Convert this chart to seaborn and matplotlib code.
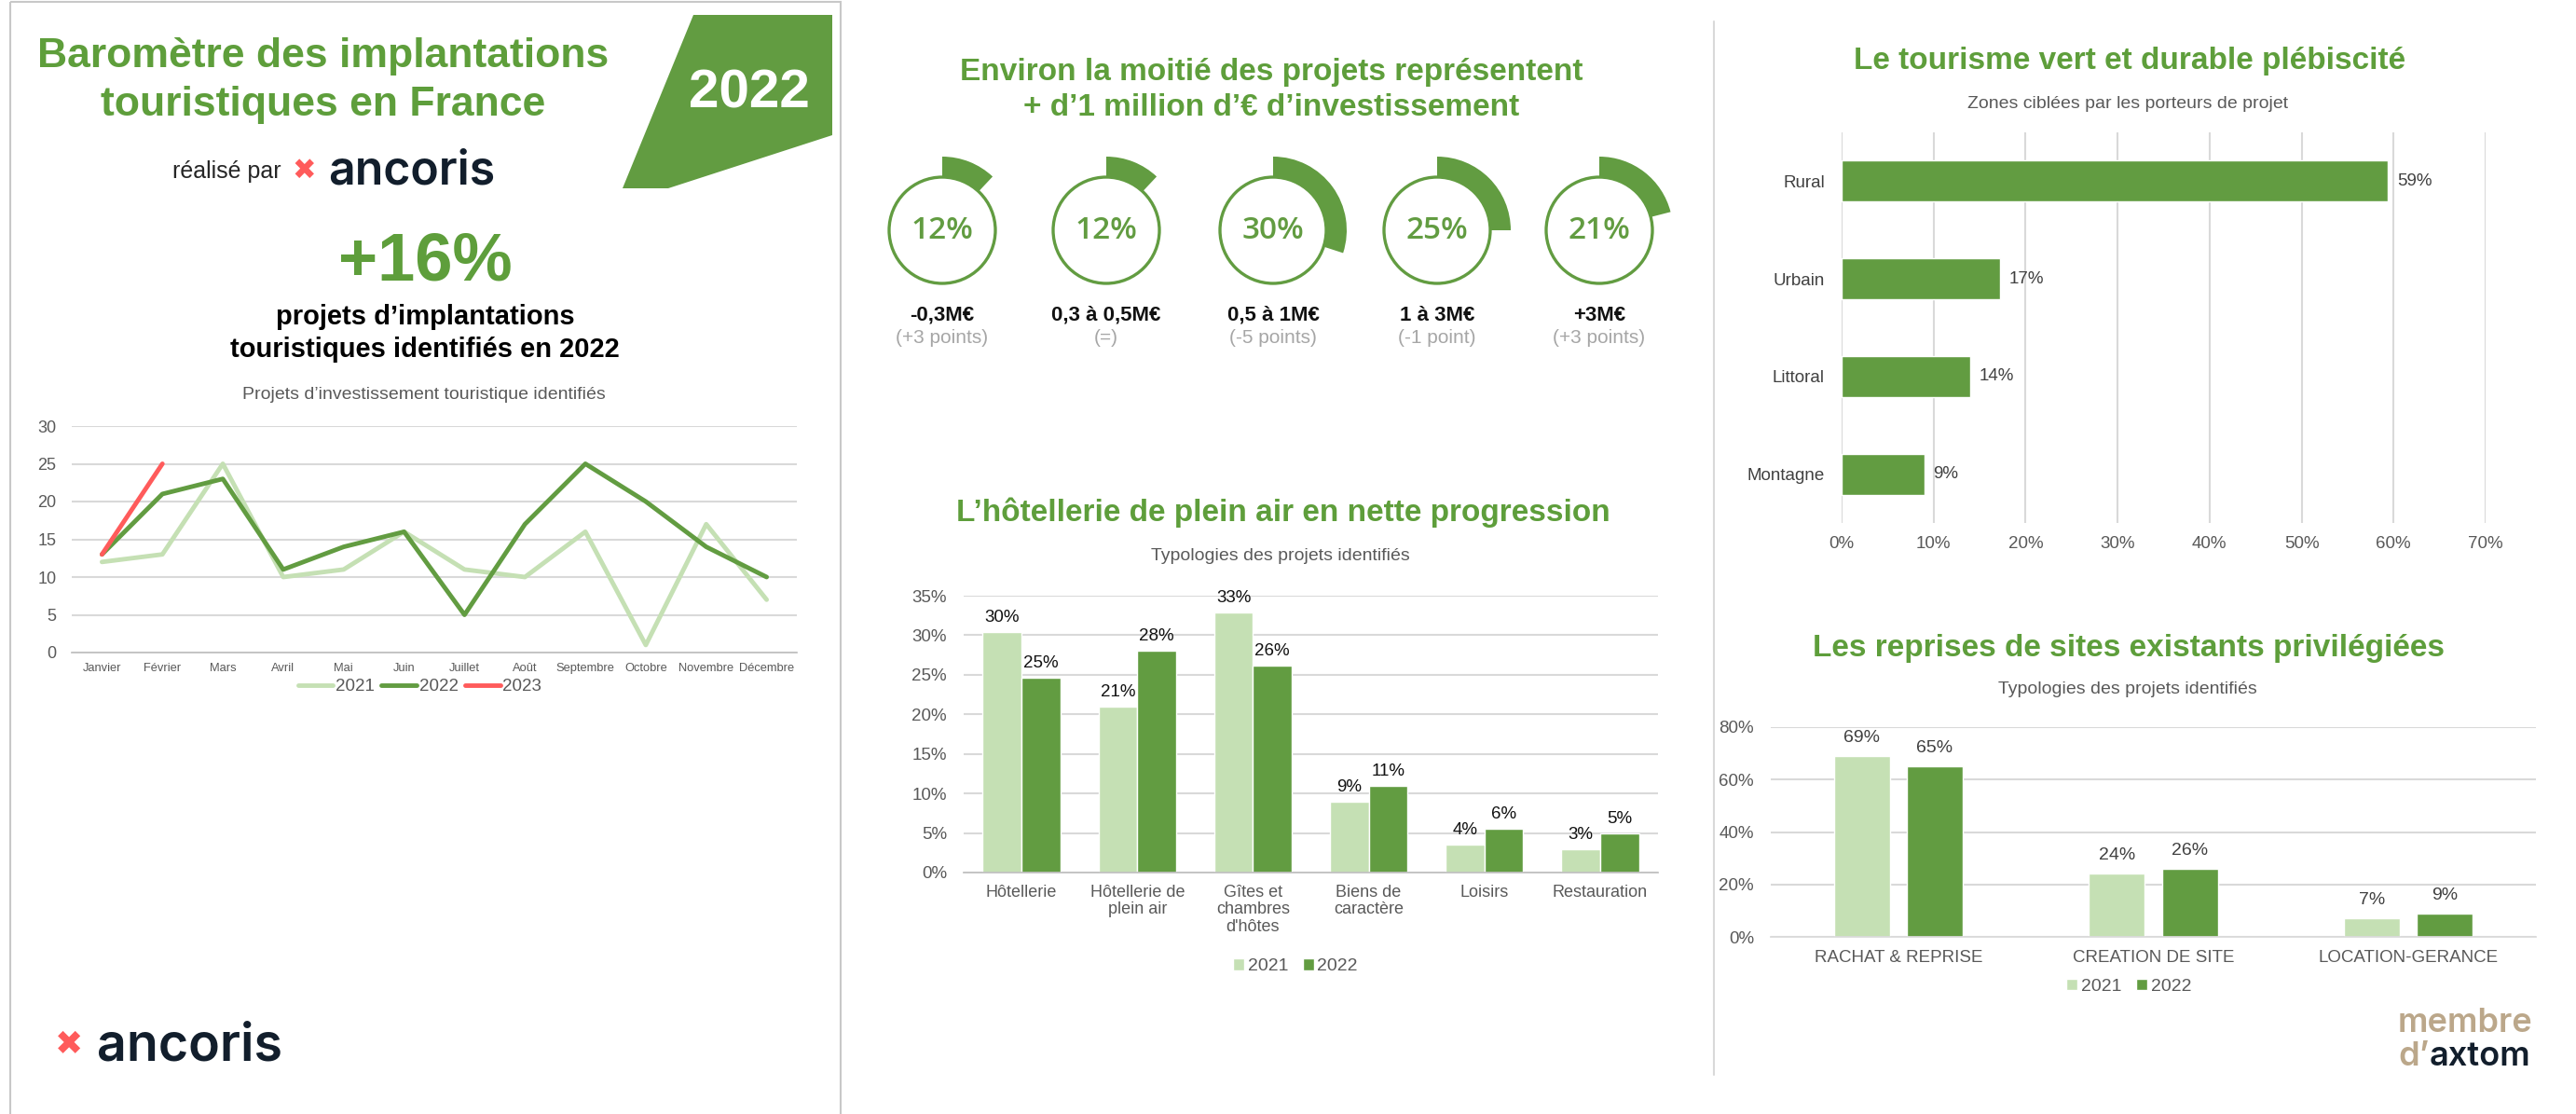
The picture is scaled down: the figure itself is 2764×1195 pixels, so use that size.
import numpy as np
import pandas as pd
import seaborn as sns
import matplotlib.pyplot as plt
from matplotlib.patches import Polygon, Rectangle, Circle
from matplotlib.ticker import PercentFormatter

mois = ["Janvier", "Février", "Mars", "Avril", "Mai", "Juin", "Juillet", "Août",
        "Septembre", "Octobre", "Novembre", "Décembre"]
projets_2021 = [12, 13, 25, 10, 11, 16, 11, 10, 16, 1, 17, 7]
projets_2022 = [13, 21, 23, 11, 14, 16, 5, 17, 25, 20, 14, 10]
projets_2023 = [13, 25]

tranches = ["-0,3M€", "0,3 à 0,5M€", "0,5 à 1M€", "1 à 3M€", "+3M€"]
tranches_pct = [12, 12, 30, 25, 21]
tranches_evol = ["(+3 points)", "(=)", "(-5 points)", "(-1 point)", "(+3 points)"]

typologies = ["Hôtellerie", "Hôtellerie de\nplein air", "Gîtes et\nchambres\nd'hôtes",
              "Biens de\ncaractère", "Loisirs", "Restauration"]
typo_2021 = [30.4, 21.0, 32.9, 9.0, 3.5, 2.9]
typo_2022 = [24.6, 28.1, 26.2, 11.0, 5.5, 5.0]

zones = ["Rural", "Urbain", "Littoral", "Montagne"]
zones_pct = [59.4, 17.2, 14.0, 9.0]

modes = ["RACHAT & REPRISE", "CREATION DE SITE", "LOCATION-GERANCE"]
modes_2021 = [69.1, 24.1, 7.2]
modes_2022 = [64.9, 26.0, 9.0]

annees = ["2021", "2022"]

# ---- couleurs
VERT = "#629C41"
VERT_T = "#5E9E3B"
CLAIR = "#C5E0B4"
ROUGE = "#FF5B5B"
GRIS = "#595959"
GRILLE = "#D9D9D9"
NAVY = "#121E2C"
TAN = "#BBA78A"

sns.set_theme(style="white")
plt.rcParams["font.family"] = ["Liberation Sans", "DejaVu Sans"]

W, H = 2764, 1195
fig = plt.figure(figsize=(W / 100, H / 100), dpi=100)


def rect(x0, y0, x1, y1):
    return [x0 / W, 1 - y1 / H, (x1 - x0) / W, (y1 - y0) / H]


# calque de décor en pixels
deco = fig.add_axes([0, 0, 1, 1])
deco.set_xlim(0, W)
deco.set_ylim(H, 0)
deco.axis("off")

deco.add_patch(Rectangle((11, 2), 891, 1210, fill=False, ec="#C8C8C8", lw=1.5))
deco.plot([1839, 1839], [23, 1153], color=GRILLE, lw=1.5)
deco.add_patch(Polygon([(744, 16), (893, 16), (893, 145), (717, 202), (668, 202)],
                       closed=True, fc=VERT, ec="none"))


def t(x, y, s, **kw):
    kw.setdefault("ha", "center")
    kw.setdefault("va", "center")
    return deco.text(x, y, s, **kw)


# ---- colonne gauche
t(347, 60, "Baromètre des implantations", fontsize=32, weight="bold", color=VERT_T)
t(347, 112, "touristiques en France", fontsize=32, weight="bold", color=VERT_T)
t(804, 100, "2022", fontsize=42, weight="bold", color="white")
t(302, 184, "réalisé par", ha="right", fontsize=18, color="#262626")
t(326, 183, "✖", fontsize=22, color=ROUGE, family=["DejaVu Sans"])
t(352, 197, "ancoris", ha="left", va="baseline", fontsize=36, weight="semibold",
  color=NAVY, family=["Inter", "DejaVu Sans"])
t(456, 281, "+16%", fontsize=52, weight="bold", color=VERT_T)
t(456, 340, "projets d’implantations", fontsize=21, weight="bold", color="black")
t(456, 375, "touristiques identifiés en 2022", fontsize=21, weight="bold", color="black")
t(455, 423, "Projets d’investissement touristique identifiés", fontsize=14, color=GRIS)
t(74, 1121, "✖", fontsize=26, color=ROUGE, family=["DejaVu Sans"])
t(104, 1137, "ancoris", ha="left", va="baseline", fontsize=40, weight="semibold",
  color=NAVY, family=["Inter", "DejaVu Sans"])

lignes = pd.DataFrame({
    "mois": mois + mois + mois[:len(projets_2023)],
    "projets": projets_2021 + projets_2022 + projets_2023,
    "annee": ["2021"] * 12 + ["2022"] * 12 + ["2023"] * len(projets_2023),
})
ax = fig.add_axes(rect(77, 457, 855, 700))
sns.lineplot(data=lignes, x="mois", y="projets", hue="annee", sort=False, linewidth=3.5,
             palette={"2021": CLAIR, "2022": VERT, "2023": ROUGE}, ax=ax)
ax.set_xlim(-0.5, 11.5)
ax.set_ylim(0, 30)
ax.set_yticks(range(0, 31, 5))
ax.set_xlabel("")
ax.set_ylabel("")
ax.grid(axis="y", color=GRILLE, lw=1.5)
sns.despine(ax=ax, left=True)
ax.spines["bottom"].set_color("#BFBFBF")
ax.tick_params(axis="y", length=0, pad=12, labelsize=13, labelcolor=GRIS)
ax.tick_params(axis="x", direction="inout", length=12, color="#BFBFBF", width=1.2,
               pad=2, labelsize=9.3, labelcolor=GRIS)
sns.move_legend(ax, "center", bbox_to_anchor=(0.48, -0.152), ncol=3, title=None,
                frameon=False, fontsize=13.5, handlelength=2.0, handletextpad=0.15,
                columnspacing=0.4, labelcolor=GRIS)

# ---- colonne centrale : tranches d'investissement
t(1364, 77, "Environ la moitié des projets représentent", fontsize=24, weight="bold", color=VERT_T)
t(1364, 115, "+ d’1 million d’€ d’investissement", fontsize=24, weight="bold", color=VERT_T)

centres = [1011, 1187, 1366, 1542, 1716]
for cx, pct, lab, evo in zip(centres, tranches_pct, tranches, tranches_evol):
    axd = fig.add_axes(rect(cx - 90, 157, cx + 90, 337))
    axd.pie([pct, 100 - pct], colors=[VERT, "none"], startangle=90, counterclock=False,
            radius=79 / 90, wedgeprops=dict(width=22 / 90, linewidth=0))
    axd.add_patch(Circle((0, 0), 57 / 90, fill=False, ec=VERT, lw=2.4))
    axd.set_xlim(-1, 1)
    axd.set_ylim(-1, 1)
    axd.text(0, 0, f"{pct}%", ha="center", va="center", fontsize=24, weight="semibold",
             color=VERT, family=["Open Sans", "DejaVu Sans"])
    t(cx, 338, lab, fontsize=16, weight="bold", color="#111111")
    t(cx, 362, evo, fontsize=15, color="#A6A6A6")

# ---- colonne centrale : typologies
t(1377, 550, "L’hôtellerie de plein air en nette progression", fontsize=24, weight="bold", color=VERT_T)
t(1374, 596, "Typologies des projets identifiés", fontsize=14, color=GRIS)

typo = pd.DataFrame({
    "typologie": typologies * 2,
    "part": typo_2021 + typo_2022,
    "annee": [annees[0]] * len(typologies) + [annees[1]] * len(typologies),
})
ax = fig.add_axes(rect(1034, 639, 1779, 936))
sns.barplot(data=typo, x="typologie", y="part", hue="annee", palette=[CLAIR, VERT],
            saturation=1, width=0.67, gap=0, ax=ax)
for cont in ax.containers:
    ax.bar_label(cont, fmt=lambda v: f"{v:.0f}%", padding=5, fontsize=13.5, color="#111111")
ax.set_ylim(0, 35)
ax.set_xlim(-0.5, 5.5)
ax.set_yticks(range(0, 36, 5))
ax.yaxis.set_major_formatter(PercentFormatter(decimals=0))
ax.set_xlabel("")
ax.set_ylabel("")
ax.grid(axis="y", color=GRILLE, lw=1.5)
ax.set_axisbelow(True)
sns.despine(ax=ax, left=True)
ax.spines["bottom"].set_color("#BFBFBF")
ax.set_xticks(np.arange(-0.5, 6, 1), minor=True)
ax.tick_params(axis="x", which="minor", length=6, color="#BFBFBF", direction="out")
ax.tick_params(axis="x", which="major", length=0, pad=9, labelsize=13, labelcolor=GRIS)
ax.tick_params(axis="y", length=0, pad=13, labelsize=13.5, labelcolor=GRIS)
for lbl in ax.get_xticklabels():
    lbl.set_linespacing(1.15)
sns.move_legend(ax, "center", bbox_to_anchor=(0.478, -0.34), ncol=2, title=None,
                frameon=False, fontsize=14, handlelength=0.6, handleheight=0.6,
                handletextpad=0.2, columnspacing=0.8, labelcolor=GRIS)

# ---- colonne droite : zones
t(2285, 65, "Le tourisme vert et durable plébiscité", fontsize=24, weight="bold", color=VERT_T)
t(2283, 111, "Zones ciblées par les porteurs de projet", fontsize=14, color=GRIS)

ax = fig.add_axes(rect(1976, 142, 2667, 561))
sns.barplot(x=zones_pct, y=zones, orient="h", color=VERT, saturation=1, width=0.42, ax=ax)
ax.bar_label(ax.containers[0], fmt=lambda v: f"{v:.0f}%", padding=7, fontsize=13.5, color="#404040")
ax.set_xlim(0, 70)
ax.set_xticks(range(0, 71, 10))
ax.xaxis.set_major_formatter(PercentFormatter(decimals=0))
ax.grid(axis="x", color=GRILLE, lw=1.5)
ax.set_axisbelow(True)
sns.despine(ax=ax, left=True, bottom=True)
ax.tick_params(axis="y", length=0, pad=13, labelsize=13.5, labelcolor="#404040")
ax.tick_params(axis="x", length=0, pad=10, labelsize=13.5, labelcolor=GRIS)

# ---- colonne droite : modes d'implantation
t(2284, 695, "Les reprises de sites existants privilégiées", fontsize=24, weight="bold", color=VERT_T)
t(2283, 739, "Typologies des projets identifiés", fontsize=14, color=GRIS)

modes_df = pd.DataFrame({
    "mode": modes * 2,
    "part": modes_2021 + modes_2022,
    "annee": [annees[0]] * len(modes) + [annees[1]] * len(modes),
})
ax = fig.add_axes(rect(1900, 780, 2721, 1005))
sns.barplot(data=modes_df, x="mode", y="part", hue="annee", palette=[CLAIR, VERT],
            saturation=1, width=0.572, gap=0.23, ax=ax)
for cont in ax.containers:
    ax.bar_label(cont, fmt=lambda v: f"{v:.0f}%", padding=8, fontsize=14, color="#404040")
ax.set_ylim(0, 80)
ax.set_xlim(-0.5, 2.5)
ax.set_yticks(range(0, 81, 20))
ax.yaxis.set_major_formatter(PercentFormatter(decimals=0))
ax.set_xlabel("")
ax.set_ylabel("")
ax.grid(axis="y", color=GRILLE, lw=1.5)
ax.set_axisbelow(True)
sns.despine(ax=ax, left=True)
ax.spines["bottom"].set_color(GRILLE)
ax.tick_params(axis="x", length=0, pad=10, labelsize=13.5, labelcolor=GRIS)
ax.tick_params(axis="y", length=0, pad=13, labelsize=13.5, labelcolor=GRIS)
sns.move_legend(ax, "center", bbox_to_anchor=(0.468, -0.236), ncol=2, title=None,
                frameon=False, fontsize=14, handlelength=0.6, handleheight=0.6,
                handletextpad=0.2, columnspacing=0.8, labelcolor=GRIS)

# logo membre d'axtom
m = t(2573, 1107, "membre", ha="left", va="baseline", fontsize=26, weight="semibold",
      color=TAN, family=["Inter", "DejaVu Sans"])
d = t(2573, 1143, "d’", ha="left", va="baseline", fontsize=26, weight="semibold",
      color=TAN, family=["Inter", "DejaVu Sans"])
deco.annotate("axtom", xy=(1, 0), xycoords=d, ha="left", va="bottom", fontsize=26,
              weight="semibold", color=NAVY, family=["Inter", "DejaVu Sans"])

fig.savefig("out.png", dpi=100)
